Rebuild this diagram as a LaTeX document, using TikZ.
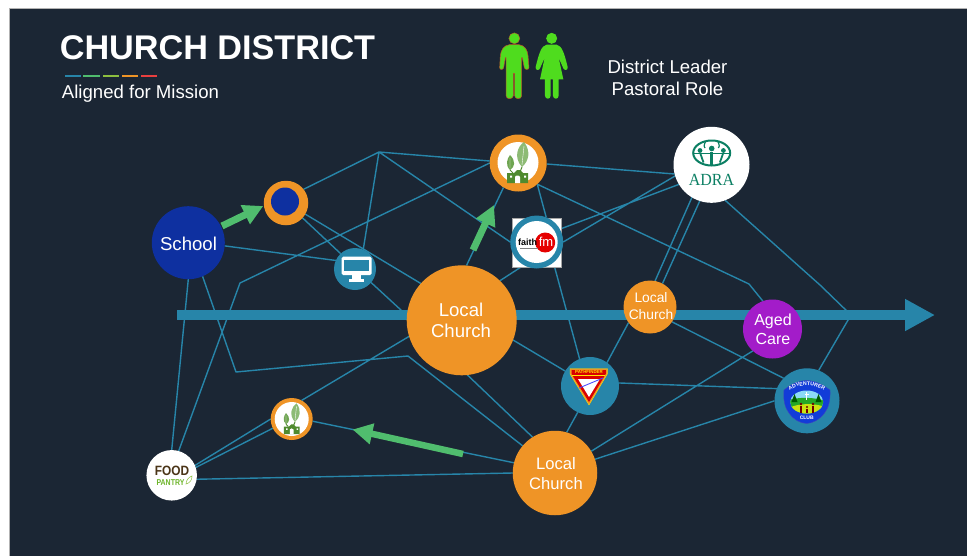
\documentclass[tikz,border=0pt]{standalone}
\usepackage{fontspec}
\setmainfont{Liberation Sans}
\newfontfamily\adrafont{Liberation Serif}
\usetikzlibrary{arrows.meta,decorations.text}
\pgfdeclarelayer{bg}
\pgfsetlayers{bg,main}
\definecolor{navy}{HTML}{1B2634}
\definecolor{teal}{HTML}{2785A9}
\definecolor{ora}{HTML}{EF9426}
\definecolor{blu}{HTML}{0E30A0}
\definecolor{pur}{HTML}{A31CC9}
\definecolor{grn}{HTML}{50BD6E}
\definecolor{lime}{HTML}{8DBF3F}
\definecolor{redd}{HTML}{E93F3F}
\definecolor{person}{HTML}{4FDC1E}
\definecolor{leafd}{HTML}{4F8A2E}
\definecolor{leafl}{HTML}{8DBB75}
\definecolor{leafm}{HTML}{6FA552}
\definecolor{adrag}{HTML}{0B7F63}
\definecolor{foodb}{HTML}{4A3417}
\definecolor{foodg}{HTML}{6DB52A}
\definecolor{outl}{HTML}{B8562A}
\tikzset{
  disc/.style={circle,inner sep=0pt,outer sep=0pt,minimum size=#1},
  lbl/.style={text=white,align=center,inner sep=0pt,outer sep=0pt},
  link/.style={draw=teal,line width=1.4pt,line join=round},
  greenarrow/.style={draw=grn,line width=#1,-{Triangle[length=20pt,width=20pt]},fill=grn},
  leafhouse/.pic={
    \fill[leafl] (4,4) .. controls (-5,-6) and (0,-17) .. (6,-21) .. controls (13,-12) and (11,-2) .. (4,4) -- cycle;
    \fill[leafm] (-8,7) .. controls (-13,2) and (-11,-4) .. (-8,-8) .. controls (-2,-2) and (-3,4) .. (-8,7) -- cycle;
    \draw[white,line width=.4pt] (4,2) -- (6,-17) (-8,5) -- (-8,-5);
    \draw[leafd,line width=1pt] (4,4) -- (2,9) (-8,7) -- (-5,10);
    \fill[leafd] (-11,20) -- (-11,10) -- (-4,10) -- (-1,7) -- (2,7) -- (5,10) -- (10,10) -- (10,20) -- cycle;
    \fill[white] (-3,20) -- (-3,14) .. controls (-3,12) and (2,12) .. (2,14) -- (2,20) -- cycle;
    \fill[white] (-8,12.5) rectangle (-6,14.5) (6,12.5) rectangle (8,14.5);
  }
}
\begin{document}
\begin{tikzpicture}[x=1pt,y=-1pt]
\useasboundingbox (0,0) rectangle (967,555);

% discs
\node[disc=73pt,fill=blu] (school) at (188.3,242.7) {};
\node[disc=44.5pt,fill=ora] (dot) at (286,203) {};
\node[disc=28pt,fill=blu] (dotin) at (285,201.5) {};
\node[disc=42pt,fill=teal] (mon) at (355,269) {};
\node[disc=110pt,fill=ora] (big) at (461.7,320.3) {};
\node[disc=57pt,fill=ora] (leaf) at (518.2,163) {};
\node[disc=41pt,fill=white] (leafin) at (518,162.5) {};
\node[rectangle,inner sep=0pt,outer sep=0pt,minimum width=48.4pt,minimum height=48.4pt,fill=white,draw=gray!70,line width=.4pt] (fmsq) at (536.5,242.5) {};
\node[disc=53pt,fill=teal] (fm) at (536.7,242) {};
\node[disc=42pt,fill=white] (fmin) at (536.7,242) {};
\node[disc=76pt,fill=white] (adra) at (711.5,164.8) {};
\node[disc=53pt,fill=ora] (small) at (650,307) {};
\node[disc=59pt,fill=pur] (aged) at (772.5,329) {};
\node[disc=58pt,fill=teal] (path) at (590,386) {};
\node[disc=65pt,fill=teal] (adv) at (807,400.8) {};
\node[disc=84.5pt,fill=ora] (bot) at (555,473) {};
\node[disc=42pt,fill=ora] (lf) at (291.7,419) {};
\node[disc=34pt,fill=white] (lfin) at (291.7,419) {};
\node[disc=50.5pt,fill=white] (food) at (171.7,475.3) {};

% free junctions
\coordinate (j1) at (379,152);
\coordinate (j2) at (240,283);
\coordinate (j3) at (236,372);
\coordinate (j4) at (408,356);
\coordinate (j5) at (749,284);
\coordinate (j6) at (820,285);
\coordinate (j7) at (851,315);
\coordinate (axisL) at (177,315);
\coordinate (axisR) at (935,315);
\coordinate (ga1s) at (222,226);
\coordinate (ga1e) at (263.3,206);
\coordinate (ga2s) at (473,250);
\coordinate (ga2e) at (494,205);
\coordinate (ga3s) at (463,454);
\coordinate (ga3e) at (352.5,429.5);

\begin{pgfonlayer}{bg}
  \fill[white] (0,0) rectangle (967,555);
  \path[fill=navy,draw=gray!60,line width=.6pt] (9.5,8.5) rectangle (970,558);
  \draw[teal,line width=10pt,-{Triangle[length=30pt,width=30pt]}] (axisL) -- (axisR);
  \path[link]
    (dot.38) -- (j1) -- (leaf.176)
    (j1) -- (mon.67)
    (j1) -- (fm.180)
    (leaf.180) -- (j2) -- (food.74)
    (dot.-42) -- (mon.133)
    (dot.-30) -- (big.138)
    (school.-5) -- (mon.156)
    (school.-90) -- (food.90)
    (school.-67) -- (j3) -- (j4) -- (bot.140)
    (mon.-40) -- (big.175)
    (big.197) -- (lf.62)
    (big.-84) -- (bot.122)
    (big.-21) -- (path.149)
    (fm.241) -- (big.46)
    (big.85) -- (leaf.239)
    (leaf.-2) -- (adra.194)
    (leaf.-48) -- (j5) -- (aged.109)
    (leaf.-48) -- (fm.69)
    (fm.29) -- (adra.211)
    (fm.0) -- (adra.197)
    (adra.239) -- (small.79)
    (adra.252) -- (small.62)
    (small.216) -- (path.54)
    (adra.-69) -- (j6) -- (j7) -- (adv.69)
    (fm.-51) -- (path.111)
    (path.245) -- (bot.74)
    (path.6) -- (adv.158)
    (small.-34) -- (adv.136)
    (aged.228) -- (bot.31)
    (adv.180) -- (bot.19)
    (lf.-6) -- (bot.166)
    (food.23) -- (lf.180)
    (food.18) -- (lf.206)
    (food.-9) -- (bot.180);
\end{pgfonlayer}

% green arrows
\draw[greenarrow=7pt] (ga1s) -- (ga1e);
\draw[greenarrow=7pt] (ga2s) -- (ga2e);
\draw[greenarrow=6.5pt] (ga3s) -- (ga3e);

% title
\node[lbl,font=\fontsize{34.2}{38}\selectfont\bfseries] (title) at (217.5,48) {CHURCH DISTRICT};
\node[lbl,font=\fontsize{18.6}{21}\selectfont] (sub) at (140.5,93.5) {Aligned for Mission};
\fill[teal] (65,74.7) rectangle (81,77.3);
\fill[grn] (83.3,74.7) rectangle (99.7,77.3);
\fill[lime] (102.7,74.7) rectangle (119,77.3);
\fill[ora] (122,74.7) rectangle (138,77.3);
\fill[redd] (140.7,74.7) rectangle (157,77.3);
\node[lbl,font=\fontsize{18.6}{22}\selectfont] (role) at (667.5,77.5) {District Leader\\Pastoral Role};

% people
\begin{scope}[shift={(490,25)},x=.3333pt,y=-.3333pt]
  \fill[person,draw=outl,line width=.4pt] (73,40) circle (5.5pt);
  \path[fill=person,draw=outl,line width=.5pt,line join=round]
    (58,59) -- (87,59) .. controls (106,62) and (112,75) .. (114,92) -- (117,128) .. controls (117,135) and (104,135) .. (103,128) -- (97,98) -- (95,98) -- (95,212) .. controls (95,224) and (74,224) .. (74,212) -- (74,145) -- (70,145) -- (70,212) .. controls (69,224) and (48,224) .. (48,212) -- (48,98) -- (46,98) -- (41,128) .. controls (40,135) and (28,135) .. (29,128) -- (31,92) .. controls (33,75) and (40,62) .. (58,59) -- cycle;
  \fill[person] (185,40) circle (5.5pt);
  \fill[person,line join=round]
    (170,59) -- (200,59) .. controls (216,62) and (223,85) .. (233,126) .. controls (235,137) and (222,137) .. (220,130) -- (206,98) -- (220,163) -- (206,163) -- (206,212) .. controls (206,224) and (189,224) .. (189,212) -- (189,163) -- (182,163) -- (182,212) .. controls (182,224) and (165,224) .. (165,212) -- (165,163) -- (150,163) -- (164,98) -- (150,130) .. controls (148,137) and (135,137) .. (137,126) .. controls (147,85) and (154,62) .. (170,59) -- cycle;
\end{scope}

% node labels
\node[lbl,font=\fontsize{18.6}{21}\selectfont] (lschool) at (188.5,243.5) {School};
\node[lbl,font=\fontsize{18.6}{21.5}\selectfont] (lbig) at (461,320.5) {Local\\Church};
\node[lbl,font=\fontsize{16.6}{20.5}\selectfont] (lbot) at (556,473.5) {Local\\Church};
\node[lbl,font=\fontsize{13.8}{17}\selectfont] (lsmall) at (651,306) {Local\\Church};
\node[lbl,font=\fontsize{16}{19.5}\selectfont] (laged) at (773,329.5) {Aged\\Care};

% monitor icon
\fill[white,rounded corners=1.5pt] (341.7,256.7) rectangle (371.5,275);
\fill[teal] (344,259.5) rectangle (369,271);
\fill[white] (352,275) rectangle (361,279);
\fill[white] (349,279) rectangle (364,282);

% leaf-house icons
\pic at (518,163) {leafhouse};
\pic[scale=.75] at (292,419) {leafhouse};

% faith fm
\fill[red!90!black] (545.2,242.5) circle (10);
\node[lbl,font=\fontsize{9}{10}\selectfont\bfseries,text=black] (faith) at (527.5,242) {faith};
\node[lbl,font=\fontsize{13}{14}\selectfont] (fmt) at (546,241.5) {fm};
\draw[gray,line width=.5pt] (520,248.5) -- (538,248.5);

% ADRA
\draw[adrag,line width=2pt] (711.7,153) ellipse (18.5pt and 12.5pt);
\begin{scope}[adrag]
  \fill (700,150.5) circle (2.4) (711.7,148.5) circle (2.8) (723.4,150.5) circle (2.4);
  \draw[line width=2.6pt] (711.7,152) -- (711.7,165);
  \draw[line width=1.8pt] (700.5,154) -- (703.5,162.5) (722.9,154) -- (719.9,162.5);
  \draw[line width=1.2pt] (694,153.5) -- (729.4,153.5);
  \draw[line width=1.2pt] (705.5,141.5) .. controls (703.5,146) and (704,147) .. (705,148) (717.9,141.5) .. controls (719.9,146) and (719.4,147) .. (718.4,148);
\end{scope}
\node[lbl,font=\fontsize{17}{18}\adrafont\selectfont,text=adrag] (ladra) at (711.5,180) {\scalebox{.94}[1]{ADRA}};

% food pantry
\node[lbl,font=\fontsize{13.5}{13.5}\selectfont\bfseries,text=foodb] (foodt) at (172,470.5) {\scalebox{.88}[1]{FOOD}};
\node[lbl,font=\fontsize{8.5}{8.5}\selectfont\bfseries,text=foodg] (pantryt) at (170.5,482.8) {\scalebox{.82}[1]{PANTRY}};
\draw[lime,line width=.5pt] (186,484) .. controls (186,480) and (189,477) .. (192,476) .. controls (192,480) and (190,483) .. (186,484) -- cycle;

% pathfinder badge
\path[fill=ora,draw=yellow!80!orange,line width=.4pt,line join=round] (570,368.5) -- (607.3,368.5) -- (607.3,374) -- (589,405) -- (570,374) -- cycle;
\fill[red!85!black] (571.5,370) -- (605.8,370) -- (605.8,373.8) -- (589,402) -- (571.5,373.8) -- cycle;
\draw[yellow!90!orange,line width=.5pt] (572,375.7) -- (605,375.7);
\fill[white] (578,379) -- (600,379) -- (589,397) -- cycle;
\draw[blue!70!white,line width=.9pt] (579,388) -- (603,378);
\node[lbl,font=\fontsize{4.4}{5}\selectfont\bfseries,text=yellow!90!orange] (pf) at (589,372.4) {PATHFINDER};

% adventurer badge
\path[fill=blue!55!teal,draw=blue!50!gray,line width=.4pt] (806.7,380.5) .. controls (797,381) and (790,385) .. (784,390) .. controls (783,400) and (785,408) .. (789,413) .. controls (794,420) and (800,423) .. (806.7,423.5) .. controls (813,423) and (819,420) .. (824.5,413) .. controls (828.5,408) and (830.5,400) .. (830,390) .. controls (823,385) and (816,381) .. (806.7,380.5) -- cycle;
\begin{scope}
  \clip (806.7,402) ellipse (16.5pt and 11.5pt);
  \fill[cyan!45!white] (789,388) rectangle (825,416);
  \fill[green!60!black!85!white] (789,416) -- (789,400) .. controls (798,397) and (815,397) .. (825,401) -- (825,416) -- cycle;
  \fill[yellow!80!green] (789,416) -- (789,408) .. controls (798,403) and (815,403) .. (825,407) -- (825,416) -- cycle;
\end{scope}
\fill[green!35!black] (794.5,394) -- (797.5,402) -- (791.5,402) -- cycle (818.5,394) -- (821.5,402) -- (815.5,402) -- cycle;
\draw[white,line width=.8pt] (806.7,392) -- (806.7,400) (804.5,394.5) -- (809,394.5);
\draw[red!45!black,line width=1.4pt] (801,405.5) -- (801,413) (807,408.5) -- (807,413) (813,405.5) -- (813,413);
\fill[red!45!black] (801,404) circle (1.3) (807,407) circle (1.1) (813,404) circle (1.3);
\path[decorate,decoration={text along path,text align=center,text={|\fontsize{5.2}{6}\selectfont\bfseries\color{white}|ADVENTURER}}] (786.5,393) .. controls (795,383) and (818,383) .. (827,393);
\node[lbl,font=\fontsize{5}{6}\selectfont\bfseries] (club) at (806.7,417.5) {CLUB};
\end{tikzpicture}
\end{document}
